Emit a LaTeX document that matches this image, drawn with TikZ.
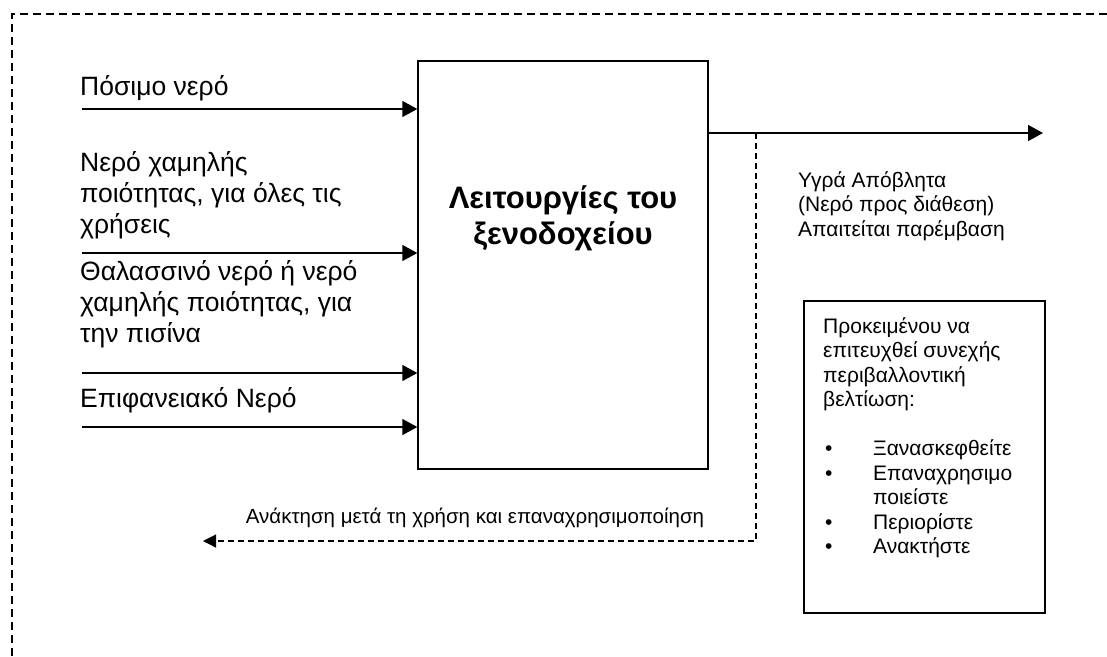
\documentclass[tikz,border=0pt]{standalone}
\usepackage{fontspec}
\setmainfont{Liberation Sans}
\usetikzlibrary{arrows.meta}
\begin{document}
\begin{tikzpicture}[x=1pt,y=-1pt,
  flow/.style={line width=1.5pt,-{Triangle[length=15pt,width=16pt]}},
  recov/.style={line width=1.2pt,dash pattern=on 6pt off 4pt,-{Triangle[length=13pt,width=13pt]}},
  frame/.style={line width=1.5pt,dash pattern=on 8pt off 5pt},
  boxstyle/.style={draw,line width=1.4pt,inner sep=0pt},
  lbl/.style={anchor=base west,inner sep=0pt,font=\fontsize{26.5}{31}\selectfont},
  small/.style={anchor=base west,inner sep=0pt,font=\fontsize{21}{24.5}\selectfont},
]
\useasboundingbox (0,0) rectangle (1107,656);
% outer dashed frame (top and left only)
\coordinate (ftl) at (12,14);
\coordinate (ftr) at (1107,14);
\coordinate (fbl) at (12,656);
\draw[frame] (ftr) -- (ftl) -- (fbl);

% main box
\node[boxstyle,minimum width=290pt,minimum height=408pt] (hotel) at (563,265) {};
\node[anchor=base,inner sep=0pt,font=\fontsize{31}{36}\selectfont\bfseries] (hoteltext) at (563,208)
  {\begin{tabular}[t]{@{}c@{}}Λειτουργίες του\\ξενοδοχείου\end{tabular}};

% inputs
\coordinate (in1) at (82,109);
\coordinate (in2) at (82,253);
\coordinate (in3) at (82,373);
\coordinate (in4) at (82,427);
\draw[flow] (in1) -- (hotel.west |- in1);
\draw[flow] (in2) -- (hotel.west |- in2);
\draw[flow] (in3) -- (hotel.west |- in3);
\draw[flow] (in4) -- (hotel.west |- in4);

\node[lbl] (l1) at (80,95) {Πόσιμο νερό};
\node[lbl] (l2) at (80,171) {\begin{tabular}[t]{@{}l@{}}Νερό χαμηλής\\ποιότητας, για όλες τις\\χρήσεις\end{tabular}};
\node[lbl] (l3) at (80,280) {\begin{tabular}[t]{@{}l@{}}Θαλασσινό νερό ή νερό\\χαμηλής ποιότητας, για\\την πισίνα\end{tabular}};
\node[lbl] (l4) at (80,407) {Επιφανειακό Νερό};

% output
\coordinate (out) at (1043,133);
\draw[flow] (hotel.east |- out) -- (out);
\node[small] (waste) at (798,187) {\begin{tabular}[t]{@{}l@{}}Υγρά Απόβλητα\\(Νερό προς διάθεση)\\Απαιτείται παρέμβαση\end{tabular}};

% recovery loop
\coordinate (tap) at (756,133);
\coordinate (corner) at (756,541);
\coordinate (back) at (203,541);
\draw[recov] (tap) -- (corner) -- (back);
\node[anchor=base,inner sep=0pt,font=\fontsize{20.5}{24}\selectfont] (rec) at (475,523) {Ανάκτηση μετά τη χρήση και επαναχρησιμοποίηση};

% note box
\node[boxstyle,minimum width=241pt,minimum height=312pt] (note) at (924.5,457) {};
\node[small] (notetext) at (823,333) {\begin{tabular}[t]{@{}l@{}}Προκειμένου να\\επιτευχθεί συνεχής\\περιβαλλοντική\\βελτίωση:\\[24.5pt]
\makebox[50pt][l]{\hspace{2pt}•}Ξανασκεφθείτε\\
\makebox[50pt][l]{\hspace{2pt}•}Επαναχρησιμο\\
\makebox[50pt][l]{}ποιείστε\\
\makebox[50pt][l]{\hspace{2pt}•}Περιορίστε\\
\makebox[50pt][l]{\hspace{2pt}•}Ανακτήστε\end{tabular}};
\end{tikzpicture}
\end{document}
